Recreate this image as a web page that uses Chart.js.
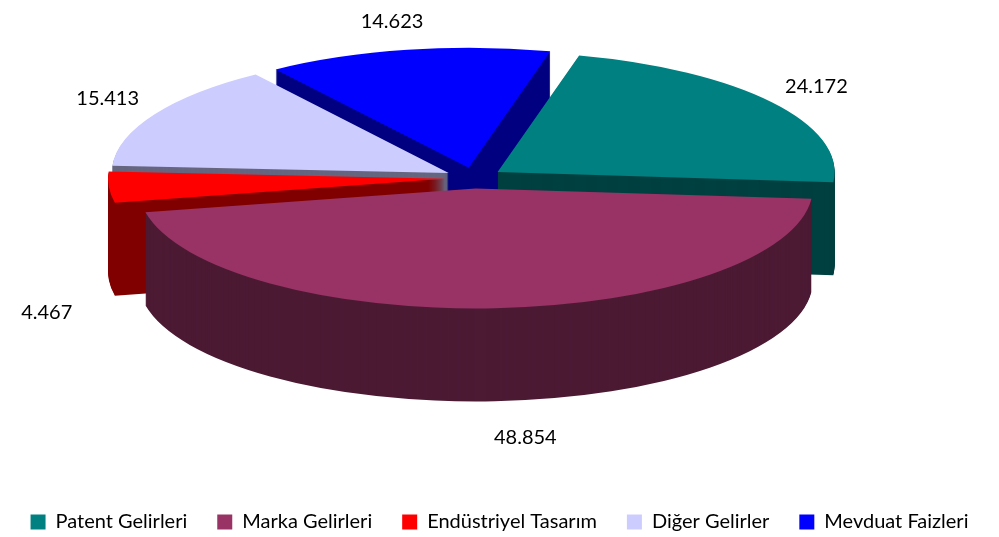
<!DOCTYPE html>
<html>
<head>
<meta charset="utf-8">
<script src="https://cdn.jsdelivr.net/npm/chart.js@4/dist/chart.umd.min.js"></script>
<style>
  html, body { margin: 0; padding: 0; background: #fff; }
  #wrap { width: 999px; height: 537px; }
</style>
</head>
<body>
<div id="wrap"><canvas id="myChart" width="999" height="537"></canvas></div>
<script>
// gelir kalemleri
var kategoriler = ["Patent Gelirleri", "Marka Gelirleri", "Endüstriyel Tasarım", "Diğer Gelirler", "Mevduat Faizleri"];
var degerler = [24172, 48854, 4467, 15413, 14623];

var ustRenk = ["#008080", "#993366", "#FF0000", "#CCCCFF", "#0000FF"];   // ust yuz
var yanRenk = ["#004040", "#4C1A33", "#800000", "#666680", "#000080"];   // yan yuz

// 3d gorunum ayarlari
var CX = 474, CY = 178;   // elips merkezi
var RX = 337, RY = 120;   // yaricaplar
var DERINLIK = 93;
var EX = 29, EY = 10.4;   // patlatma
var etiketKay = [[-2, 0], [27, 10], [-5, 117], [3, -3], [-5, -2]];

function binlik(n) {
  return String(n).replace(/\B(?=(\d{3})+(?!\d))/g, ".");
}

var pie3d = {
  id: "pie3d",
  beforeDatasetsDraw: function (chart) {
    var ctx = chart.ctx;
    var meta = chart.getDatasetMeta(0);
    var sira = meta.data.map(function (a, i) { return i; });
    sira.sort(function (i, j) {
      var a = meta.data[i], b = meta.data[j];
      return Math.sin((a.startAngle + a.endAngle) / 2) - Math.sin((b.startAngle + b.endAngle) / 2);
    });

    sira.forEach(function (i) {
      var arc = meta.data[i];
      var yarim = (arc.startAngle + arc.endAngle) / 2;
      var R = arc.outerRadius;
      var ox = CX + Math.cos(yarim) * EX;
      var oy = CY + Math.sin(yarim) * EY;
      for (var d = DERINLIK; d >= 0; d--) {
        var sahte = Object.create(arc);
        sahte.options = Object.assign({}, arc.options, {
          backgroundColor: d > 0 ? yanRenk[i] : ustRenk[i],
          borderWidth: 0
        });
        ctx.save();
        ctx.translate(ox, oy + d);
        ctx.scale(RX / R, RY / R);
        ctx.translate(-arc.x, -arc.y);
        sahte.draw(ctx);
        ctx.restore();
      }
    });

    // veri etiketleri
    ctx.save();
    ctx.font = "20px Lato";
    ctx.fillStyle = "#000";
    ctx.textAlign = "center";
    ctx.textBaseline = "middle";
    meta.data.forEach(function (arc, i) {
      var yarim = (arc.startAngle + arc.endAngle) / 2;
      var c = Math.cos(yarim), s = Math.sin(yarim);
      var x = CX + c * EX + 1.17 * RX * c;
      var y = CY + s * EY + 1.22 * RY * s + (s > 0 ? DERINLIK * s : 0);
      ctx.fillText(binlik(degerler[i]), x + etiketKay[i][0], y + etiketKay[i][1]);
    });
    ctx.restore();
    return false;
  }
};

new Chart("myChart", {
  type: "pie",
  data: {
    labels: kategoriler,
    datasets: [{
      data: degerler,
      backgroundColor: ustRenk,
      borderWidth: 0
    }]
  },
  options: {
    responsive: false,
    animation: false,
    rotation: 14,
    layout: { padding: { bottom: -5 } },
    plugins: {
      tooltip: { enabled: false },
      legend: {
        position: "bottom",
        labels: {
          color: "#000",
          font: { family: "Lato", size: 20 },
          boxWidth: 15,
          boxHeight: 15,
          padding: 30
        }
      }
    }
  },
  plugins: [pie3d]
});
</script>
</body>
</html>
